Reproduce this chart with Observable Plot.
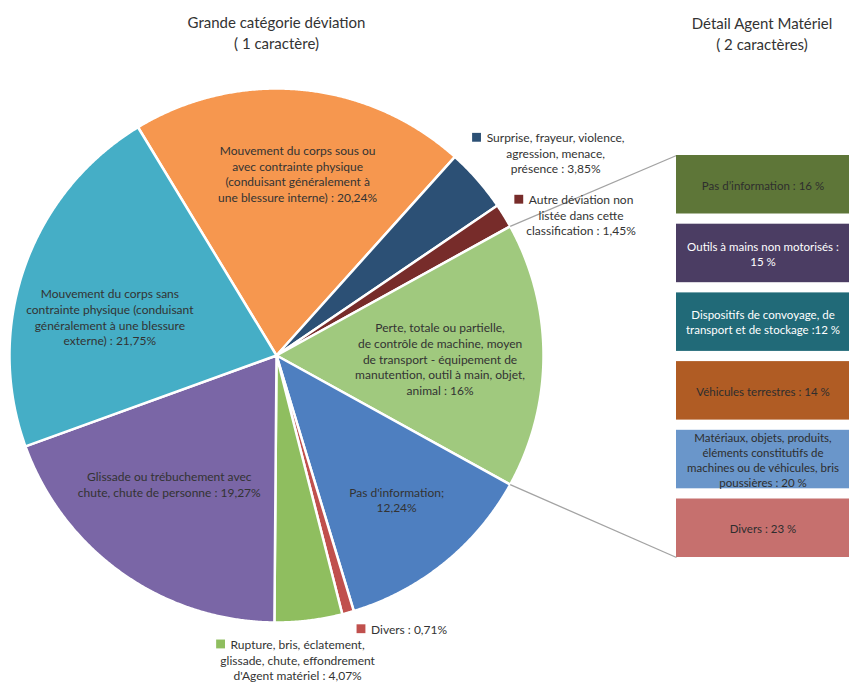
<!DOCTYPE html>
<html>
<head>
<meta charset="utf-8">
<script src="https://cdn.jsdelivr.net/npm/d3@7"></script>
<script src="https://cdn.jsdelivr.net/npm/@observablehq/plot@0.6"></script>
<style>
  html, body { margin: 0; padding: 0; background: #fff; }
  #chart svg { display: block; }
</style>
</head>
<body>
<div id="chart"></div>
<script>
// ---------- DATA ----------
const sliceNames = [
  "Mouvement du corps sous ou\navec contrainte physique\n(conduisant généralement à\nune blessure interne) : ",
  "Surprise, frayeur, violence,\nagression, menace,\nprésence : ",
  "Autre déviation non\nlistée dans cette\nclassification : ",
  "Perte, totale ou partielle,\nde contrôle de machine, moyen\nde transport - équipement de\nmanutention, outil à main, objet,\nanimal : ",
  "Pas d'information;\n",
  "Divers : ",
  "Rupture, bris, éclatement,\nglissade, chute, effondrement\nd'Agent matériel : ",
  "Glissade ou trébuchement avec\nchute, chute de personne : ",
  "Mouvement du corps sans\ncontrainte physique (conduisant\ngénéralement à une blessure\nexterne) : "
];
const sliceValues = [20.24, 3.85, 1.45, 16, 12.24, 0.71, 4.07, 19.27, 21.75];
const sliceColors = ["#F6974F", "#2C5075", "#772C2A", "#A0C97E", "#4E7FC0", "#C0504D", "#8FBE5F", "#7A66A6", "#45AEC6"];
const explodedIndex = 3;

const detailNames = [
  "Pas d\u2019information : ",
  "Outils à mains non motorisés :\n",
  "Dispositifs de convoyage, de\ntransport et de stockage :",
  "Véhicules terrestres : ",
  "Matériaux, objets, produits,\néléments constitutifs de\nmachines ou de véhicules, bris\npoussières : ",
  "Divers : "
];
const detailValues = [16, 15, 12, 14, 20, 23];
const detailColors = ["#5E7638", "#4B3D63", "#216A78", "#B05C24", "#6A96CA", "#C6706E"];
const detailTextColors = ["#2e2e2e", "#ffffff", "#ffffff", "#2e2e2e", "#2e2e2e", "#2e2e2e"];

const titleLeft = "Grande catégorie déviation\n( 1 caractère)";
const titleRight = "Détail Agent Matériel\n( 2 caractères)";

// ---------- LAYOUT ----------
const W = 851, H = 686;
const cx = 276, cy = 355, R = 267;
const FONT = "Lato";
const fs = 12, lh = 1.3;
// label layout: radius factor, dx, dy, marker?
const labelLayout = [
  {k: 0.65, dx: 5, dy: -9, marker: false},
  {k: 1, dx: 78, dy: -27, marker: true},
  {k: 1, dx: 77, dy: -1, marker: true},
  {k: 0.65, dx: -10, dy: 3, marker: false},
  {k: 0.65, dx: 11, dy: 9, marker: false},
  {k: 1, dx: 61, dy: 16, marker: true},
  {k: 1, dx: -11, dy: 39, marker: true},
  {k: 0.65, dx: -7, dy: -13, marker: false},
  {k: 0.65, dx: -3, dy: 19, marker: false}
];
const boxX1 = 676, boxX2 = 849, boxTop = 155, boxStep = 68.7, boxH = 58.5;

// ---------- BUILD ----------
const fmt = v => String(v).replace(".", ",");
const total = d3.sum(sliceValues);
const before = d3.sum(sliceValues.slice(0, explodedIndex)) + sliceValues[explodedIndex] / 2;
const start = Math.PI / 2 - (before / total) * 2 * Math.PI;
const arcs = d3.pie().sort(null).startAngle(start).endAngle(start + 2 * Math.PI)(sliceValues);
const pt = (a, r) => ({x: cx + r * Math.sin(a), y: cy - r * Math.cos(a)});

const sliceMarks = arcs.map((a, i) => {
  const pts = [{x: cx, y: cy}];
  const n = Math.max(2, Math.ceil((a.endAngle - a.startAngle) / 0.005));
  for (let j = 0; j <= n; j++) pts.push(pt(a.startAngle + (a.endAngle - a.startAngle) * j / n, R));
  pts.push({x: cx, y: cy});
  return Plot.line(pts, {x: "x", y: "y", fill: sliceColors[i], stroke: "white", strokeWidth: 2.5, strokeLinejoin: "round", curve: "linear"});
});

const ctx = document.createElement("canvas").getContext("2d");
ctx.font = `${fs}px ${FONT}`;

const labels = arcs.map((a, i) => {
  const L = labelLayout[i];
  const mid = (a.startAngle + a.endAngle) / 2;
  const p = pt(mid, L.k * R);
  const text = sliceNames[i] + fmt(sliceValues[i]) + "%";
  const lines = text.split("\n");
  const x = p.x + L.dx, y = p.y + L.dy;
  const firstY = y - (lines.length - 1) / 2 * fs * lh;
  const w1 = ctx.measureText(lines[0]).width;
  return {x, y, text, marker: L.marker, mx: x - w1 / 2 - 10, my: firstY, color: sliceColors[i]};
});

const boxes = detailValues.map((v, i) => ({
  x1: boxX1, x2: boxX2,
  y1: boxTop + i * boxStep, y2: boxTop + i * boxStep + boxH,
  text: detailNames[i] + fmt(v) + " %",
  fill: detailColors[i], tc: detailTextColors[i]
}));

const ex = arcs[explodedIndex];
const pA = pt(ex.startAngle, R), pB = pt(ex.endAngle, R);
const connectors = [
  {x1: pA.x, y1: pA.y, x2: boxes[0].x1, y2: boxes[0].y1},
  {x1: pB.x, y1: pB.y, x2: boxes[boxes.length - 1].x1, y2: boxes[boxes.length - 1].y2}
];

const chart = Plot.plot({
  width: W, height: H, margin: 0,
  style: {fontFamily: FONT, background: "white"},
  x: {domain: [0, W], range: [0, W], axis: null},
  y: {domain: [0, H], range: [0, H], axis: null},
  marks: [
    ...sliceMarks,
    Plot.link(connectors, {x1: "x1", y1: "y1", x2: "x2", y2: "y2", stroke: "#a3a3a3", strokeWidth: 1.3}),
    Plot.rect(boxes, {x1: "x1", x2: "x2", y1: "y1", y2: "y2", fill: d => d.fill}),
    Plot.text(boxes, {x: d => (d.x1 + d.x2) / 2, y: d => (d.y1 + d.y2) / 2, text: "text", fill: d => d.tc, fontSize: 11.5, lineHeight: 1.3, fontFamily: FONT, textAnchor: "middle"}),
    Plot.text(labels, {x: "x", y: "y", text: "text", fill: "#333", fontSize: fs, lineHeight: lh, fontFamily: FONT, textAnchor: "middle"}),
    Plot.dot(labels.filter(d => d.marker), {x: "mx", y: "my", symbol: "square", r: 5, fill: d => d.color, stroke: null}),
    Plot.text([{t: titleLeft, x: cx, y: 31}, {t: titleRight, x: (boxX1 + boxX2) / 2 - 1, y: 32}], {x: "x", y: "y", text: "t", fontSize: 15, lineHeight: 1.4, fill: "#333", fontFamily: FONT, textAnchor: "middle"})
  ]
});
document.getElementById("chart").appendChild(chart);
</script>
</body>
</html>
